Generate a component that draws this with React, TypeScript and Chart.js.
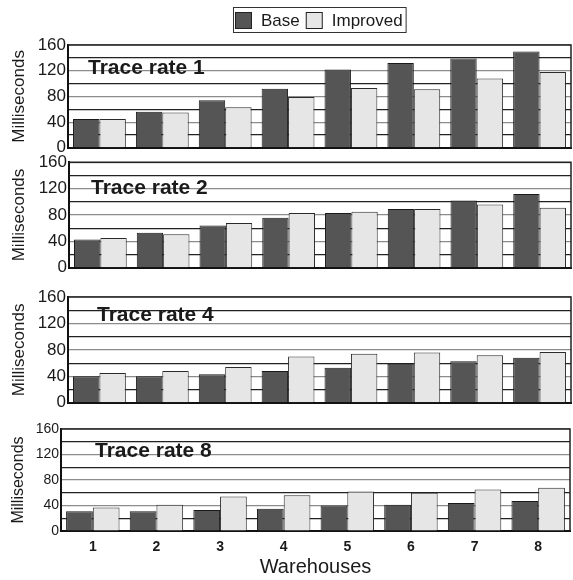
import React, { useEffect, useRef } from 'react';
import { Chart, registerables } from 'chart.js';

Chart.register(...registerables);

const categories = ['1', '2', '3', '4', '5', '6', '7', '8'];
const seriesNames = ['Base', 'Improved'];
const panelTitles = ['Trace rate 1', 'Trace rate 2', 'Trace rate 4', 'Trace rate 8'];
const yAxisTitle = 'Milliseconds';
const xAxisTitle = 'Warehouses';

const base1 = [45, 56, 74, 92, 122, 132, 139, 150];
const improved1 = [45, 55, 63, 79, 93, 91, 108, 118];
const base2 = [43, 53, 64, 76, 83, 89, 102, 112];
const improved2 = [45, 51, 68, 83, 85, 89, 96, 91];
const base4 = [40, 40, 43, 48, 53, 59, 63, 68];
const improved4 = [45, 48, 54, 70, 74, 76, 72, 77];
const base8 = [31, 31, 33, 35, 40, 41, 44, 47];
const improved8 = [37, 41, 54, 56, 62, 60, 65, 68];

const yMin = 0;
const yMax = 160;
const yStep = 20;
const yLabelStep = 40;

const FONT = '"Liberation Sans", Arial, Helvetica, sans-serif';
const BASE_COLOR = '#555555';
const IMPROVED_COLOR = '#e6e6e6';
const INK = '#1a1a1a';

const panelData = [
  [base1, improved1],
  [base2, improved2],
  [base4, improved4],
  [base8, improved8],
];

type Layout = {
  top: number;
  height: number;
  padTop: number;
  padBottom: number;
  padRight: number;
  yWidth: number;
  xHeight: number;
  showX: boolean;
  tickSize: number;
  yTitleSize: number;
  titleDX: number;
  titleDY: number;
  legend: boolean;
};

const layouts: Layout[] = [
  { top: 0, height: 160, padTop: 45, padBottom: 12, padRight: 2, yWidth: 68, xHeight: 0, showX: false, tickSize: 17, yTitleSize: 17, titleDX: 20, titleDY: 29, legend: true },
  { top: 150, height: 130, padTop: 11, padBottom: 12, padRight: 2, yWidth: 69, xHeight: 0, showX: false, tickSize: 17, yTitleSize: 17, titleDX: 22, titleDY: 32, legend: false },
  { top: 280, height: 135, padTop: 17, padBottom: 12, padRight: 2, yWidth: 68, xHeight: 0, showX: false, tickSize: 17, yTitleSize: 17, titleDX: 29, titleDY: 24, legend: false },
  { top: 415, height: 165, padTop: 14, padBottom: 0, padRight: 3, yWidth: 61, xHeight: 49, showX: true, tickSize: 14, yTitleSize: 16, titleDX: 34, titleDY: 28, legend: false },
];

const frameAndTextPlugin = {
  id: 'frameAndText',
  beforeDatasetsDraw(chart: any) {
    const o = chart.options.plugins.frameAndText;
    if (!o) return;
    const { ctx, chartArea } = chart;
    ctx.save();
    ctx.font = `bold 21px ${FONT}`;
    ctx.fillStyle = INK;
    ctx.textBaseline = 'alphabetic';
    ctx.textAlign = 'left';
    ctx.fillText(o.title, chartArea.left + o.dx, chartArea.top + o.dy);
    ctx.restore();
  },
  afterDraw(chart: any) {
    const o = chart.options.plugins.frameAndText;
    if (!o) return;
    const { ctx, chartArea } = chart;
    ctx.save();
    ctx.strokeStyle = '#222';
    ctx.lineWidth = 1.5;
    ctx.beginPath();
    ctx.moveTo(chartArea.left, chartArea.top);
    ctx.lineTo(chartArea.right, chartArea.top);
    ctx.lineTo(chartArea.right, chartArea.bottom);
    ctx.stroke();

    if (o.legend) {
      ctx.font = `17px ${FONT}`;
      const sw = 17;
      const gapText = 9;
      const gapItem = 6;
      const padL = 2;
      const padR = 3;
      const items = chart.data.datasets.map((ds: any) => ({
        label: ds.label,
        w: ctx.measureText(ds.label).width,
        fill: ds.backgroundColor,
      }));
      let total = padL + padR;
      items.forEach((it: any, i: number) => {
        total += sw + gapText + it.w + (i < items.length - 1 ? gapItem : 0);
      });
      const cx = (chartArea.left + chartArea.right) / 2;
      const left = Math.round(cx - total / 2);
      const top = 7;
      const h = 25;
      ctx.strokeStyle = '#333';
      ctx.lineWidth = 1;
      ctx.strokeRect(left + 0.5, top + 0.5, total, h);
      let x = left + padL;
      items.forEach((it: any) => {
        ctx.fillStyle = it.fill;
        ctx.fillRect(x, 12, sw, sw);
        ctx.strokeStyle = '#222';
        ctx.strokeRect(x + 0.5, 12.5, sw - 1, sw - 1);
        x += sw + gapText;
        ctx.fillStyle = INK;
        ctx.textBaseline = 'middle';
        ctx.textAlign = 'left';
        ctx.fillText(it.label, x, 21);
        x += it.w + gapItem;
      });
    }
    ctx.restore();
  },
};

function Panel({ index }: { index: number }) {
  const ref = useRef<HTMLCanvasElement>(null);
  const L = layouts[index];
  useEffect(() => {
    if (!ref.current) return;
    const [baseVals, impVals] = panelData[index];
    const chart = new Chart(ref.current, {
      type: 'bar',
      data: {
        labels: categories,
        datasets: [
          { label: seriesNames[0], data: baseVals, backgroundColor: BASE_COLOR, borderColor: '#1a1a1a', borderWidth: 1 },
          { label: seriesNames[1], data: impVals, backgroundColor: IMPROVED_COLOR, borderColor: '#2a2a2a', borderWidth: 1 },
        ],
      },
      plugins: [frameAndTextPlugin],
      options: {
        responsive: false,
        animation: false,
        events: [],
        layout: { padding: { top: L.padTop, bottom: L.padBottom, left: 0, right: L.padRight } },
        datasets: { bar: { categoryPercentage: 0.84, barPercentage: 1.0 } },
        plugins: {
          legend: { display: false },
          tooltip: { enabled: false },
          frameAndText: { title: panelTitles[index], dx: L.titleDX, dy: L.titleDY, legend: L.legend },
        } as any,
        scales: {
          x: {
            grid: { display: false, drawTicks: false },
            border: { display: true, color: '#111', width: 2 },
            ticks: { display: L.showX, color: INK, padding: 8, font: { family: FONT, size: 14, weight: 'bold' } },
            title: { display: L.showX, text: xAxisTitle, color: INK, font: { family: FONT, size: 20 }, padding: { top: 0, bottom: 1 } },
            afterFit: (s: any) => { s.height = L.xHeight; },
          },
          y: {
            min: yMin,
            max: yMax,
            ticks: {
              stepSize: yStep,
              autoSkip: false,
              color: INK,
              padding: 2,
              font: { family: FONT, size: L.tickSize },
              callback: (v: any) => (Number(v) % yLabelStep === 0 ? String(v) : ''),
            },
            grid: {
              drawTicks: false,
              lineWidth: 1.2,
              color: (c: any) => (c.tick && c.tick.value % yLabelStep === 0 ? '#8c8c8c' : '#222222'),
            },
            border: { display: true, color: '#111', width: 2 },
            title: { display: true, text: yAxisTitle, color: INK, font: { family: FONT, size: L.yTitleSize }, padding: { top: 9, bottom: 0 } },
            afterFit: (s: any) => { s.width = L.yWidth; },
          },
        },
      } as any,
    });
    return () => chart.destroy();
  }, [index]);
  return (
    <canvas
      ref={ref}
      width={573}
      height={L.height}
      style={{ position: 'absolute', left: 0, top: L.top, width: 573, height: L.height, display: 'block' }}
    />
  );
}

export default function App() {
  return (
    <div style={{ position: 'absolute', left: 0, top: 0, width: 573, height: 580, background: '#fff' }}>
      {panelTitles.map((_, i) => (
        <Panel key={i} index={i} />
      ))}
    </div>
  );
}
